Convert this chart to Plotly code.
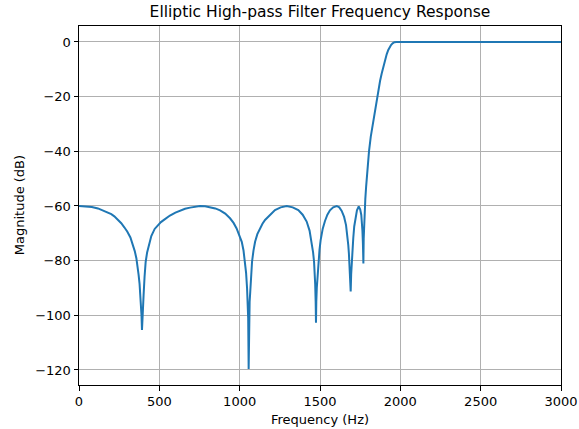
import plotly.graph_objects as go

freq_hz = [0, 40, 80, 118, 150, 180, 201, 220, 240, 263, 282, 301, 320, 336, 347, 357,
           365, 371, 377, 382, 386, 389, 392, 395, 398, 402, 408, 415, 424, 434, 450,
           471, 490, 510, 533, 566, 600, 629, 660, 691, 720, 753, 785, 815, 848, 878, 910,
           940, 962, 981, 998, 1013, 1024, 1033, 1040, 1046, 1050, 1053, 1056, 1059,
           1062, 1066, 1071, 1077, 1086, 1096, 1110, 1127, 1142, 1158, 1189, 1220, 1255,
           1293, 1330, 1365, 1392, 1417, 1435, 1448, 1457, 1463, 1467, 1470, 1473, 1475,
           1477, 1480, 1484, 1490, 1497, 1504, 1517, 1531, 1546, 1562, 1582, 1604, 1620,
           1635, 1650, 1662, 1670, 1676, 1680, 1683, 1687, 1691, 1694, 1697, 1701, 1707,
           1713, 1720, 1730, 1741, 1750, 1757, 1761, 1764, 1767, 1770, 1772, 1775, 1778,
           1782, 1787, 1793, 1799, 1805, 1816, 1832, 1849, 1863, 1874, 1884, 1895, 1905,
           1915, 1925, 1933, 1942, 1952, 1963, 1977, 2000, 2500, 3000]
mag_db = [-60.0, -60.1, -60.4, -60.9, -61.6, -62.4, -63.0, -63.8, -64.8, -66.3, -67.8,
          -69.4, -71.5, -74.3, -76.5, -79.1, -82.0, -85.2, -88.5, -92.6, -96.0, -100.0,
          -105.4, -99.0, -95.0, -92.6, -86.0, -80.4, -77.0, -74.3, -71.0, -68.4, -67.0,
          -65.9, -64.9, -63.5, -62.4, -61.6, -61.0, -60.6, -60.2, -60.0, -60.1, -60.4,
          -60.9, -61.6, -62.8, -64.5, -66.2, -68.2, -70.5, -73.1, -76.3, -80.4, -84.5,
          -90.1, -95.0, -101.0, -119.6, -101.0, -95.0, -91.3, -85.0, -80.4, -76.3, -73.1,
          -70.3, -68.2, -66.5, -65.1, -63.2, -61.5, -60.5, -60.0, -60.5, -61.5, -63.2,
          -65.7, -69.0, -73.1, -77.0, -80.4, -84.0, -88.5, -95.0, -102.7, -95.0, -90.0,
          -86.0, -80.4, -76.0, -72.5, -68.3, -65.5, -63.2, -61.6, -60.5, -60.0, -60.5,
          -61.8, -64.0, -67.0, -70.5, -74.3, -77.5, -80.4, -85.0, -91.3, -85.0, -81.0,
          -76.5, -71.8, -67.5, -64.5, -61.6, -60.2, -61.2, -63.3, -65.8, -69.0, -73.5,
          -81.0, -72.0, -65.5, -61.5, -57.5, -53.0, -48.0, -43.8, -40.0, -34.6, -28.5,
          -22.4, -17.6, -14.2, -11.5, -8.8, -6.6, -4.5, -2.9, -1.9, -1.1, -0.5, -0.1,
          0.0, 0.0, 0.0, 0.0]

x_ticks = [0, 500, 1000, 1500, 2000, 2500, 3000]
y_ticks = [0, -20, -40, -60, -80, -100, -120]

font_family = "DejaVu Sans"

fig = go.Figure()
fig.add_trace(go.Scatter(x=freq_hz, y=mag_db, mode="lines",
                         line=dict(color="#1f77b4", width=2), showlegend=False))

axis_common = dict(
    showline=True, linecolor="black", linewidth=1, mirror=True,
    ticks="outside", ticklen=4.5, tickwidth=1, tickcolor="black",
    showgrid=True, gridcolor="#b0b0b0", gridwidth=1, zeroline=False,
    tickfont=dict(family=font_family, size=13, color="black"),
    automargin=False,
)

fig.update_layout(
    width=579, height=429,
    margin=dict(l=79, r=18, t=26, b=44),
    paper_bgcolor="white", plot_bgcolor="white",
    title=dict(text="Elliptic High-pass Filter Frequency Response",
               font=dict(family=font_family, size=15.5, color="black"),
               x=0.5, xanchor="center", xref="paper", y=0.972, yanchor="middle"),
    xaxis=dict(range=[0, 3000], tickvals=x_ticks, **axis_common),
    yaxis=dict(range=[-125.5, 5.85], tickvals=y_ticks, **axis_common),
    annotations=[
        dict(text="Frequency (Hz)", xref="paper", yref="paper", x=0.5, y=-0.095,
             xanchor="center", yanchor="middle", showarrow=False,
             font=dict(family=font_family, size=13, color="black")),
        dict(text="Magnitude (dB)", xref="paper", yref="paper", x=-0.123, y=0.5,
             xanchor="center", yanchor="middle", textangle=-90, showarrow=False,
             font=dict(family=font_family, size=13, color="black")),
    ],
)

fig.write_html("out.html")
